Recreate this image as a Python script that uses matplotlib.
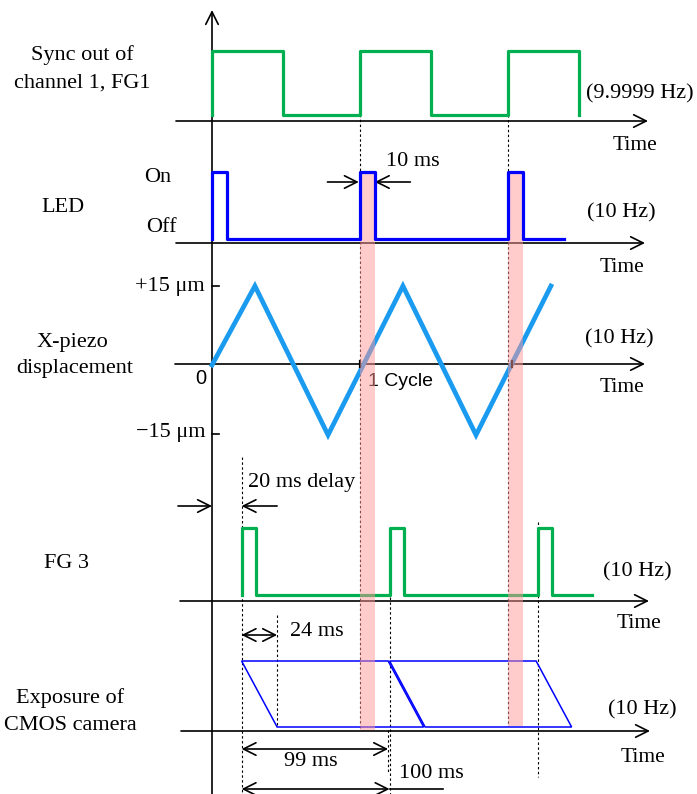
import numpy as np
import matplotlib
matplotlib.use("Agg")
import matplotlib.pyplot as plt
from matplotlib.patches import Polygon

# ---------------- timing data (ms) ----------------
sync_rise_ms = [0, 100, 200]          # FG1 sync out, 9.9999 Hz
sync_high_ms = 48
led_on_ms = [0, 100, 200]             # LED pulses, 10 Hz
led_width_ms = 10
led_end_ms = 238
piezo_t_ms = [0, 29, 78.4, 129, 178.4, 229]   # triangle vertices
piezo_um = [0, 15, -15, 15, -15, 15]
fg3_on_ms = [20, 120, 220]            # FG3 trigger pulses
fg3_width_ms = 10
fg3_end_ms = 257
trigger_delay_ms = 20
exposure_start_ms = [20, 120]         # CMOS frames
exposure_ms = 99
rolling_ms = 24
frame_period_ms = 100

# ---------------- layout ----------------
W, H = 697, 794
X0 = 212            # position of the vertical axis
PX_PER_MS = 1.48


def tx(px):
    return (px - X0) / PX_PER_MS


fig = plt.figure(figsize=(W / 100, H / 100), dpi=100)
ax = fig.add_axes([0, 0, 1, 1])
ax.set_xlim(tx(0), tx(W))
ax.set_ylim(H, 0)
ax.axis("off")

SERIF = "Liberation Serif"
SANS = "Liberation Sans"
FS = 16
GREEN = "#00b050"
BLUE = "#0000ff"
PIEZO = "#1a9bf0"
AXLW = 1.2
AHEAD = "->,head_length=0.5,head_width=0.25"


def arrow(t_tail, t_tip, y, style=AHEAD, lw=AXLW):
    ax.annotate("", xy=(t_tip, y), xytext=(t_tail, y),
                arrowprops=dict(arrowstyle=style, lw=lw, color="k",
                                mutation_scale=18, shrinkA=0, shrinkB=0))


def dbl_arrow(t_a, t_b, y):
    arrow(t_a, t_b, y, style="<->,head_length=0.5,head_width=0.25")


def dotted(t, y0, y1):
    ax.plot([t, t], [y0, y1], color="k", lw=0.8, ls=(0, (2.2, 2.2)), zorder=2)


def text(px, py, s, ha="center", family=SERIF, size=FS):
    ax.text(tx(px), py, s, ha=ha, va="center", family=family, fontsize=size)


def pulse_train(starts, width, end):
    t, s = [], []
    for st in starts:
        t += [st, st, st + width, st + width]
        s += [0, 1, 1, 0]
    if end > t[-1]:
        t.append(end)
        s.append(0)
    return np.array(t, float), np.array(s, float)


# vertical axis
ax.annotate("", xy=(0, 10), xytext=(0, H + 2),
            arrowprops=dict(arrowstyle=AHEAD, lw=AXLW, color="k",
                            mutation_scale=18, shrinkA=0, shrinkB=0))

# horizontal time axes: (y, left px, tip px)
for y, xl, xr in [(121, 176, 648), (243, 176, 645), (364, 175, 645),
                  (601, 180, 649), (731, 181, 650)]:
    arrow(tx(xl), tx(xr), y)

# ---------------- FG1 sync ----------------
t, s = pulse_train(sync_rise_ms, sync_high_ms, sync_rise_ms[-1] + sync_high_ms)
ax.plot(t, 115 - s * (115 - 51), color=GREEN, lw=2.3, zorder=4)
text(82, 55, "Sync out of")
text(82, 83, "channel 1, FG1")
text(640, 94, "(9.9999 Hz)")
text(635, 146, "Time", size=15.5)

# ---------------- LED ----------------
t, s = pulse_train(led_on_ms, led_width_ms, led_end_ms)
ax.plot(t, 239 - s * (239 - 172), color=BLUE, lw=2.3, zorder=6)
text(158, 177, "On")
text(161, 227, "Off")
text(63, 208, "LED")
text(621, 213, "(10 Hz)")
text(622, 267, "Time", size=15.5)
arrow(led_on_ms[1] - 22, led_on_ms[1] - 0.8, 182)
arrow(led_on_ms[1] + led_width_ms + 24, led_on_ms[1] + led_width_ms, 182)
text(413, 162, "10 ms")

# ---------------- X-piezo ----------------
pv = np.array(piezo_um, float)
py = np.where(pv >= 0, 365 - pv * 79 / 15, 365 - pv * 70 / 15)
ax.plot(piezo_t_ms, py, color=PIEZO, lw=3.4, solid_joinstyle="miter", zorder=4)
for yy in (286, 434):
    ax.plot([0, tx(219)], [yy, yy], color="k", lw=AXLW)
# cycle marks on the time axis
for tc in (100, 203):
    ax.plot([tc, tc], [361, 367], color="k", lw=1.6, zorder=5)
text(205, 286, "+15 \u03bcm", ha="right")
text(205, 433, "\u221215 \u03bcm", ha="right")
text(201, 378, "0", family=SANS, size=14.5)
text(368, 382, "1 Cycle", ha="left", family=SANS, size=14)
text(72, 342, "X-piezo")
text(75, 369, "displacement")
text(619, 339, "(10 Hz)")
text(622, 388, "Time", size=15.5)

# ---------------- FG3 ----------------
t, s = pulse_train(fg3_on_ms, fg3_width_ms, fg3_end_ms)
ax.plot(t, 595 - s * (595 - 528), color=GREEN, lw=2.3, zorder=4)
text(66, 563, "FG 3")
text(637, 572, "(10 Hz)")
text(639, 623, "Time", size=15.5)
text(248, 483, "20 ms delay", ha="left")
arrow(tx(178), 0, 506)
arrow(trigger_delay_ms + 24, trigger_delay_ms, 506)

# ---------------- CMOS exposure ----------------
top, bot = 661, 727
for st in exposure_start_ms:
    poly = Polygon([(st, top), (st + exposure_ms, top),
                    (st + exposure_ms + rolling_ms, bot), (st + rolling_ms, bot)],
                   closed=True, fill=False, edgecolor=BLUE, lw=1.1, zorder=4)
    ax.add_patch(poly)
text(70, 698, "Exposure of")
text(70, 726, "CMOS camera")
text(642, 710, "(10 Hz)")
text(643, 758, "Time", size=15.5)
dbl_arrow(exposure_start_ms[0], exposure_start_ms[0] + rolling_ms, 635)
text(290, 632, "24 ms", ha="left")
dbl_arrow(exposure_start_ms[0], exposure_start_ms[0] + exposure_ms, 749)
text(311, 762, "99 ms")
dbl_arrow(exposure_start_ms[0], exposure_start_ms[0] + frame_period_ms, 789)
ax.plot([exposure_start_ms[0] + frame_period_ms, tx(443)], [789, 789], color="k", lw=AXLW)
text(399, 773, "100 ms", ha="left")

# ---------------- guide lines ----------------
dotted(sync_rise_ms[1], 85, 730)
dotted(sync_rise_ms[2], 100, 726)
dotted(trigger_delay_ms, 457, H)
dotted(exposure_start_ms[0] + rolling_ms, 615, 727)
dotted(exposure_start_ms[0] + exposure_ms, 730, 773)
dotted(fg3_on_ms[1], 597, H)
dotted(fg3_on_ms[2], 522, 777)

# LED-on windows
for st, yb in zip(led_on_ms[1:], (730, 726)):
    ax.fill_between([st, st + led_width_ms], 172, yb, color="#ff9999",
                    alpha=0.5, lw=0, zorder=5)

fig.savefig("out.png", dpi=100)
